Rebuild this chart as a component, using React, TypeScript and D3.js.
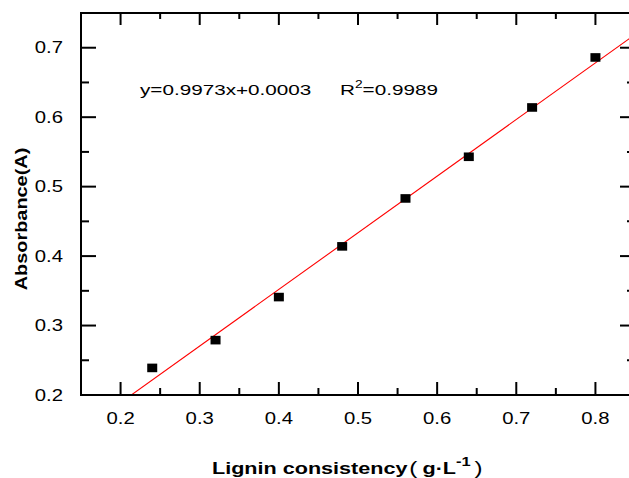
import React from "react";
import * as d3 from "d3";

// data
const concentration = [0.24, 0.32, 0.4, 0.48, 0.56, 0.64, 0.72, 0.8];
const absorbance = [0.239, 0.279, 0.341, 0.414, 0.483, 0.543, 0.614, 0.686];
const xTicks = [0.2, 0.3, 0.4, 0.5, 0.6, 0.7, 0.8];
const xMinor = [0.15, 0.25, 0.35, 0.45, 0.55, 0.65, 0.75, 0.85];
const yTicks = [0.2, 0.3, 0.4, 0.5, 0.6, 0.7];
const yMinor = [0.25, 0.35, 0.45, 0.55, 0.65, 0.75];
const equationText = "y=0.9973x+0.0003";
const r2Value = "=0.9989";

const W = 629;
const H = 478;
const FONT = "'Liberation Sans', Arial, sans-serif";

const App = () => {
  const x = d3.scaleLinear().domain([0.15, 0.85]).range([81, 635]);
  const y = d3.scaleLinear().domain([0.2, 0.75]).range([395, 13]);
  const [x0, x1] = x.range();
  const [y0, y1] = y.range();

  // least squares fit for the red line
  const mx = d3.mean(concentration)!;
  const my = d3.mean(absorbance)!;
  const sxy = d3.sum(concentration, (c, i) => (c - mx) * (absorbance[i] - my));
  const sxx = d3.sum(concentration, (c) => (c - mx) * (c - mx));
  const slope = sxy / sxx;
  const icept = my - slope * mx;
  const fit = d3
    .line<number>()
    .x((d) => x(d))
    .y((d) => y(slope * d + icept));

  const sx = 1.27; // labels are stretched sideways in the source

  return (
    <svg
      width={W}
      height={H}
      style={{ position: "absolute", left: 0, top: 0, background: "#fff" }}
      fontFamily={FONT}
    >
      <defs>
        <clipPath id="plot">
          <rect x={x0} y={y1} width={x1 - x0} height={y0 - y1} />
        </clipPath>
      </defs>

      {/* fit line */}
      <path
        d={fit(x.domain()) || ""}
        clipPath="url(#plot)"
        fill="none"
        stroke="#ff0000"
        strokeWidth={1.1}
      />

      {/* points */}
      {concentration.map((c, i) => (
        <rect
          key={i}
          x={x(c) - 5}
          y={y(absorbance[i]) - 4.3}
          width={10}
          height={8.6}
          fill="#000"
        />
      ))}

      {/* frame */}
      <rect
        x={x0}
        y={y1}
        width={x1 - x0}
        height={y0 - y1}
        fill="none"
        stroke="#000"
        strokeWidth={2}
      />

      {/* x ticks, bottom and top */}
      <g stroke="#000" strokeWidth={2}>
        {xTicks.map((t) => (
          <g key={t}>
            <line x1={x(t)} x2={x(t)} y1={y0} y2={y0 - 13} />
            <line x1={x(t)} x2={x(t)} y1={y1} y2={y1 + 12} />
          </g>
        ))}
        {xMinor.map((t) => (
          <g key={t}>
            <line x1={x(t)} x2={x(t)} y1={y0} y2={y0 - 7} />
            <line x1={x(t)} x2={x(t)} y1={y1} y2={y1 + 6} />
          </g>
        ))}
        {yTicks.map((t) => (
          <g key={t}>
            <line x1={x0} x2={x0 + 15} y1={y(t)} y2={y(t)} />
            <line x1={x1} x2={x1 - 15} y1={y(t)} y2={y(t)} />
          </g>
        ))}
        {yMinor.map((t) => (
          <g key={t}>
            <line x1={x0} x2={x0 + 8} y1={y(t)} y2={y(t)} />
            <line x1={x1} x2={x1 - 8} y1={y(t)} y2={y(t)} />
          </g>
        ))}
      </g>

      {/* tick labels */}
      <g fontSize={16} fill="#000">
        {xTicks.map((t) => (
          <text
            key={t}
            transform={`translate(${x(t)},424) scale(${sx},1)`}
            textAnchor="middle"
          >
            {t.toFixed(1)}
          </text>
        ))}
        {yTicks.map((t) => (
          <text
            key={t}
            transform={`translate(63,${y(t)}) scale(${sx},1)`}
            textAnchor="end"
            dy="0.36em"
          >
            {t.toFixed(1)}
          </text>
        ))}
      </g>

      {/* equation */}
      <g fontSize={15} fill="#000">
        <text transform="translate(140,95) scale(1.38,1)">{equationText}</text>
        <text transform="translate(340,95) scale(1.38,1)">
          R<tspan fontSize={10} dy={-7}>2</tspan>
          <tspan dy={7}>{r2Value}</tspan>
        </text>
      </g>

      {/* axis titles */}
      <text
        transform="translate(212,474) scale(1.27,1)"
        fontSize={17}
        fontWeight="bold"
        fill="#000"
      >
        Lignin consistency
        <tspan dx={1.5} fontSize={19} fontWeight="normal">(</tspan>
        <tspan dx={4}>g·L</tspan>
        <tspan fontSize={13} dy={-8}>-1</tspan>
        <tspan dy={8} dx={3} fontSize={19} fontWeight="normal">)</tspan>
      </text>
      <text
        transform="translate(27,219) scale(1,1.17) rotate(-90)"
        fontSize={17}
        fontWeight="bold"
        textAnchor="middle"
        fill="#000"
      >
        Absorbance(A)
      </text>
    </svg>
  );
};

export default App;
